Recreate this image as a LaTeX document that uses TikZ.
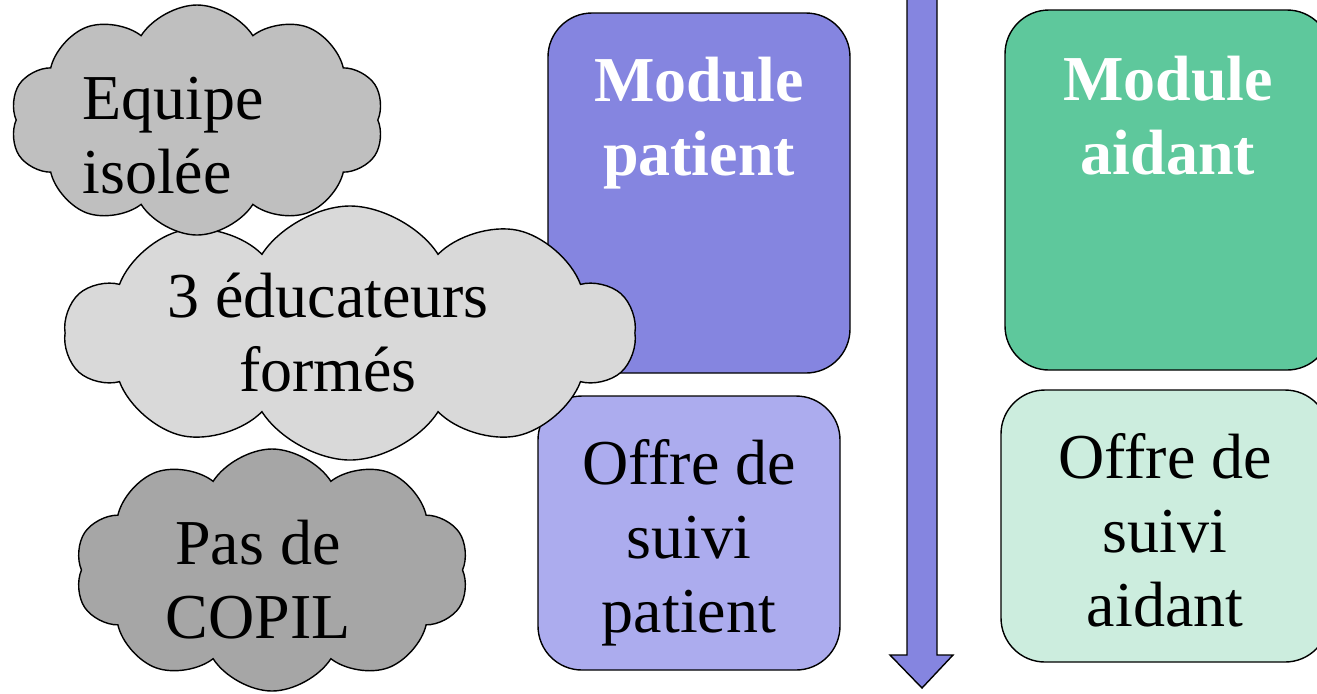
\documentclass[tikz,border=0pt]{standalone}
\usepackage{fontspec}
\setmainfont{Liberation Serif}
\usepackage{tikz}
\usetikzlibrary{shapes.symbols, positioning}
\definecolor{patientdark}{HTML}{8585E0}
\definecolor{patientlight}{HTML}{ACACEE}
\definecolor{aidantdark}{HTML}{5EC89C}
\definecolor{aidantlight}{HTML}{CCEDDE}
\definecolor{cloudA}{HTML}{BFBFBF}
\definecolor{cloudB}{HTML}{D9D9D9}
\definecolor{cloudC}{HTML}{A6A6A6}
\tikzset{
  modbox/.style={draw=black,line width=0.7pt,rounded corners=22pt,minimum width=151pt,minimum height=180pt},
  suivibox/.style={modbox,minimum height=137pt},
  cloudbox/.style={cloud,cloud puffs=10,cloud puff arc=115,cloud ignores aspect,draw=black,line width=0.7pt,inner sep=0pt},
  bigtext/.style={font=\fontsize{32}{37}\selectfont,align=center,inner sep=0pt},
  modtext/.style={bigtext,font=\fontsize{32}{37}\selectfont\bfseries,text=white}
}

\begin{document}
\begin{tikzpicture}[x=0.5pt,y=-0.5pt]
\useasboundingbox (0,0) rectangle (1317,693);

% patient column
\node [modbox,fill=patientdark](mod patient) at (699,193) {};
\node [modtext,anchor=north,yshift=-22pt] at (mod patient.north) {Module\\patient};
\node [suivibox,fill=patientlight](suivi patient) at (689,533) {};
\node [bigtext,anchor=north,yshift=-22pt] at (suivi patient.north) {Offre de\\suivi\\patient};

% arrow
\draw [line width=0.7pt,fill=patientdark] (907,-5) -- (937,-5) -- (937,655) -- (953,655)
  -- (922,688) -- (890,655) -- (907,655) -- cycle;

% aidant column
\node [modbox,fill=aidantdark,minimum width=163pt](mod aidant) at (1168,190) {};
\node [modtext,anchor=north,yshift=-23pt] at (mod aidant.north) {Module\\aidant};
\node [suivibox,fill=aidantlight,minimum width=164pt,minimum height=136pt](suivi aidant) at (1165,526) {};
\node [bigtext,anchor=north,yshift=-22pt] at (suivi aidant.north) {Offre de\\suivi\\aidant};

% clouds
\node [cloudbox,fill=cloudC,minimum width=197pt,minimum height=121pt](copil) at (272,570) {};
\node [bigtext,xshift=-7pt,yshift=-5pt] at (copil) {Pas de\\COPIL};
\node [cloudbox,fill=cloudB,minimum width=285pt,minimum height=127pt](educ) at (350,333) {};
\node [bigtext,xshift=-11pt,yshift=0pt] at (educ) {3 éducateurs\\formés};
\node [cloudbox,fill=cloudA,minimum width=187pt,minimum height=115pt](equipe) at (197,120) {};
\node [bigtext,align=left,xshift=-12pt,yshift=-8pt] at (equipe) {Equipe\\isolée};
\end{tikzpicture}
\end{document}
